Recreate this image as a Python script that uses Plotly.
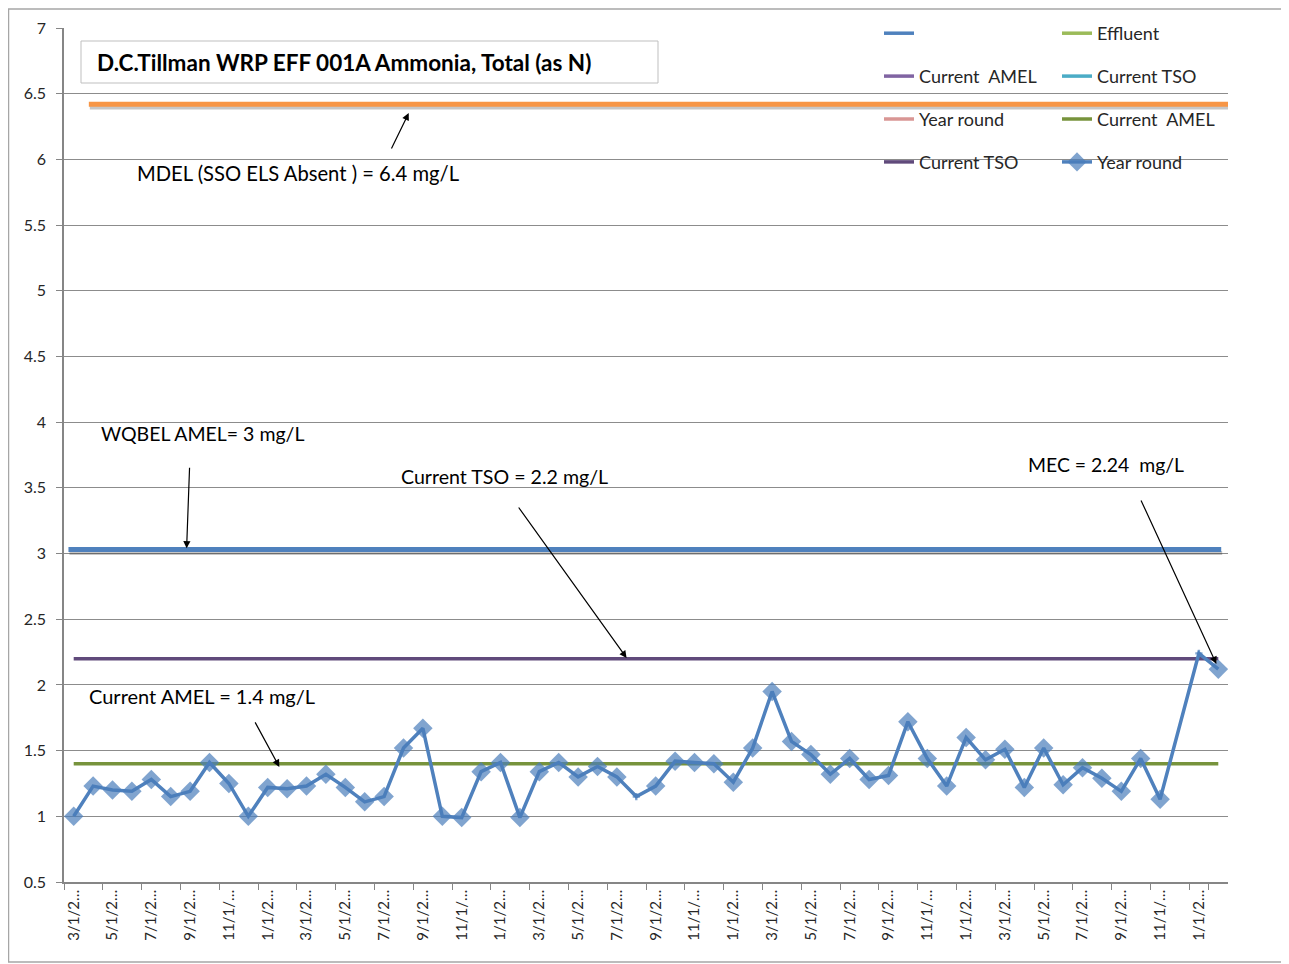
import plotly.graph_objects as go

# ---------------- data ----------------
start_year = 2007
categories = []
for k in range(60):
    m = (2 + k) % 12 + 1
    y = start_year + (2 + k) // 12
    categories.append(f"{m}/1/{y}")

year_round = [1.00, 1.23, 1.20, 1.19, 1.28, 1.15, 1.19, 1.41, 1.25, 1.00,
              1.22, 1.21, 1.23, 1.32, 1.22, 1.11, 1.15, 1.52, 1.67, 1.00,
              0.99, 1.34, 1.41, 0.99, 1.34, 1.41, 1.30, 1.38, 1.30, 1.15,
              1.23, 1.42, 1.41, 1.40, 1.26, 1.52, 1.95, 1.57, 1.47, 1.32,
              1.44, 1.28, 1.31, 1.72, 1.44, 1.23, 1.60, 1.43, 1.51, 1.22,
              1.52, 1.24, 1.37, 1.29, 1.19, 1.44, 1.13, None, 2.24, 2.12]
small_marker_idx = [29, 58]

current_amel = 1.4
current_tso = 2.2
wqbel_amel = 3.03
mdel = 6.42

tick_labels = [c[:5] + "…" for c in categories]

y_ticks = [0.5, 1, 1.5, 2, 2.5, 3, 3.5, 4, 4.5, 5, 5.5, 6, 6.5, 7]
y_tick_text = ["0.5", "1", "1.5", "2", "2.5", "3", "3.5", "4", "4.5", "5", "5.5", "6", "6.5", "7"]

FONT = "Lato"
OFF = 8  # page body margin
W, H = 1281, 956
L, R, T, B = 56, 61, 20, 82
PW, PH = W - L - R, H - T - B


def px(xp):
    return (xp - OFF - L) / PW


def py(yp):
    return (H - B - (yp - OFF)) / PH


fig = go.Figure()


def dummy(name, color, legend, width=3.5):
    fig.add_trace(go.Scatter(x=[categories[0]], y=[None], mode="lines", name=name,
                             line=dict(color=color, width=width), legend=legend,
                             legendgroup=name + legend + color, hoverinfo="skip"))


# legend column 1
dummy(" ", "#4F81BD", "legend")
dummy("Current  AMEL", "#8064A2", "legend")
dummy("Year round", "#D99694", "legend")
fig.add_trace(go.Scatter(x=categories, y=[current_tso] * len(categories), mode="lines",
                         name="Current TSO", line=dict(color="#604A7B", width=3.5),
                         legend="legend", legendgroup="tso_real"))
# legend column 2
dummy("Effluent", "#9BBB59", "legend2")
dummy("Current TSO", "#4BACC6", "legend2")
fig.add_trace(go.Scatter(x=categories, y=[current_amel] * len(categories), mode="lines",
                         name="Current  AMEL", line=dict(color="#77933C", width=3.5),
                         legend="legend2", legendgroup="amel_real"))
sizes = [6 if i in small_marker_idx else 15 for i in range(len(year_round))]
symbols = ["cross" if i in small_marker_idx else "diamond" for i in range(len(year_round))]
fig.add_trace(go.Scatter(x=categories, y=year_round, mode="lines+markers", name="Year round",
                         connectgaps=True,
                         line=dict(color="#4F81BD", width=3.5),
                         marker=dict(color="#4A7EBB", size=sizes, symbol=symbols,
                                     line=dict(width=0)),
                         legend="legend2", legendgroup="yr_real"))

# ---------------- reference lines drawn on chart ----------------
shapes = []
for val, x0, x1, col in [(mdel, 0.78, 59.5, "#F79646"), (wqbel_amel, -0.27, 59.15, "#4F81BD")]:
    shapes.append(dict(type="line", xref="x", yref="y", x0=x0 + 0.05, x1=x1 + 0.05,
                       y0=val - 0.026, y1=val - 0.026,
                       line=dict(color="rgba(0,0,0,0.22)", width=4), layer="above"))
    shapes.append(dict(type="line", xref="x", yref="y", x0=x0, x1=x1, y0=val, y1=val,
                       line=dict(color=col, width=5), layer="above"))

# title box
shapes.append(dict(type="rect", xref="paper", yref="paper", x0=px(81), x1=px(658),
                   y0=py(83), y1=py(41), line=dict(color="#BFBFBF", width=1),
                   fillcolor="white", layer="above"))
# chart border
shapes.append(dict(type="rect", xref="paper", yref="paper", x0=px(8.5), x1=px(1287),
                   y0=py(962), y1=py(9), line=dict(color="#A6A6A6", width=1.5), layer="below"))

annotations = []
annotations.append(dict(xref="paper", yref="paper", x=px(95), y=py(62), xanchor="left",
                        yanchor="middle", showarrow=False,
                        text="<b>D.C.Tillman WRP EFF 001A Ammonia, Total (as N)</b>",
                        font=dict(family=FONT, size=22.5, color="black")))

texts = [
    ("MDEL (SSO ELS Absent ) = 6.4 mg/L", 3.14, 5.897, 20.2),
    ("WQBEL AMEL= 3 mg/L", 1.29, 3.91, 19.5),
    ("Current TSO = 2.2 mg/L", 16.75, 3.583, 19.6),
    ("MEC = 2.24  mg/L", 49.1, 3.674, 19.4),
    ("Current AMEL = 1.4 mg/L", 0.67, 1.916, 20),
]
for t, xi, yv, fs in texts:
    annotations.append(dict(xref="x", yref="y", x=xi, y=yv, xanchor="left", yanchor="middle",
                            text=t, showarrow=False,
                            font=dict(family=FONT, size=fs, color="black")))

arrows = [(17.27, 6.353, -18, 37), (5.82, 3.04, 3, -82), (28.5, 2.205, -109, -152),
          (58.9, 2.16, -76, -165), (10.6, 1.376, -25, -46)]
for xi, yv, ax, ay in arrows:
    annotations.append(dict(xref="x", yref="y", x=xi, y=yv, ax=ax, ay=ay, text="",
                            showarrow=True, arrowhead=2, arrowsize=1.2, arrowwidth=1.2,
                            arrowcolor="black"))

fig.update_layout(
    width=W, height=H,
    margin=dict(l=L, r=R, t=T, b=B, autoexpand=False),
    paper_bgcolor="white", plot_bgcolor="white",
    shapes=shapes, annotations=annotations,
    font=dict(family=FONT, size=15, color="#262626"),
    legend=dict(x=px(879), y=py(15), xanchor="left", yanchor="top", bgcolor="rgba(0,0,0,0)",
                tracegroupgap=16.5, font=dict(family=FONT, size=18, color="#262626")),
    legend2=dict(x=px(1057), y=py(15), xanchor="left", yanchor="top", bgcolor="rgba(0,0,0,0)",
                 tracegroupgap=16.5, font=dict(family=FONT, size=18, color="#262626")),
)
fig.update_xaxes(type="category", range=[-0.5, 59.5], tickmode="array",
                 tickvals=categories[::2], ticktext=tick_labels[::2], tickangle=-90,
                 tickson="boundaries", ticks="outside", ticklen=6, tickcolor="#868686",
                 showgrid=False, showline=True, linecolor="#868686", linewidth=1.5,
                 tickfont=dict(family=FONT, size=15, color="#262626"))
fig.update_yaxes(range=[0.5, 7], tickmode="array", tickvals=y_ticks, ticktext=y_tick_text,
                 ticks="outside", ticklen=6, tickcolor="#868686", showgrid=True,
                 gridcolor="#8C8C8C", gridwidth=1, showline=True, linecolor="#868686",
                 linewidth=1.5, zeroline=False, ticklabelstandoff=7,
                 tickfont=dict(family=FONT, size=16, color="#262626"))

fig.write_html("out.html")
